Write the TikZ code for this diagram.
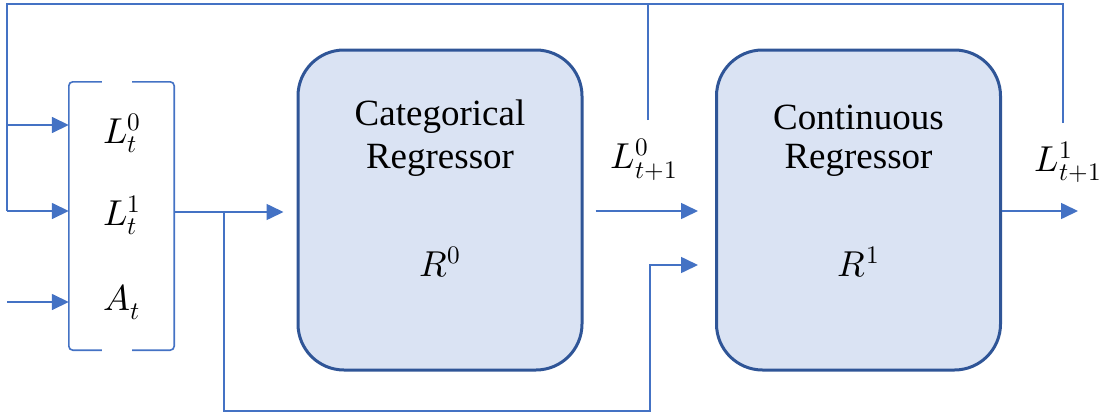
\documentclass[tikz,border=0pt]{standalone}
\usepackage{fontspec}
\usepackage{unicode-math}
\setmainfont{Liberation Serif}
\usetikzlibrary{arrows.meta}
\definecolor{linkblue}{HTML}{4472C4}
\definecolor{boxedge}{HTML}{2F5597}
\definecolor{boxfill}{HTML}{DAE3F3}
\begin{document}
\begin{tikzpicture}[x=1pt,y=-1pt,
  conn/.style={draw=linkblue,line width=1.6pt},
  arr/.style={conn,-{Triangle[length=17pt,width=16pt]}},
  regbox/.style={draw=boxedge,line width=3pt,fill=boxfill,rounded corners=46pt,
    minimum width=284pt,minimum height=320pt,inner sep=0pt},
  txt/.style={font=\fontsize{37}{40}\selectfont,inner sep=0pt},
  mth/.style={font=\fontsize{36}{40}\selectfont,inner sep=0pt}]
\useasboundingbox (0,0) rectangle (1105,415);

% input vector with its bracket
\node[minimum width=105pt,minimum height=268pt,inner sep=0pt] (vec) at (121.5,216) {};
\draw[conn,rounded corners=4pt] ([xshift=33pt]vec.north west) -- (vec.north west)
  -- (vec.south west) -- ([xshift=33pt]vec.south west);
\draw[conn,rounded corners=4pt] ([xshift=-42pt]vec.north east) -- (vec.north east)
  -- (vec.south east) -- ([xshift=-42pt]vec.south east);
\node[mth] (l0t) at (122,133) {$L_t^0$};
\node[mth] (l1t) at (122,215) {$L_t^1$};
\node[mth] (at) at (122,302) {$A_t$};

% regressors
\node[regbox] (r0) at (440,210) {};
\node[txt] (r0a) at (440,117) {Categorical};
\node[txt] (r0b) at (440,160) {Regressor};
\node[mth] (r0c) at (440,262) {$R^0$};

\node[regbox] (r1) at (858.5,210) {};
\node[txt] (r1a) at (858.5,117) {Continuous};
\node[txt] (r1b) at (858.5,160) {Regressor};
\node[mth] (r1c) at (858.5,262) {$R^1$};

% outputs
\node[mth] (l0n) at (644,160) {$L_{t+1}^0$};
\node[mth] (l1n) at (1068,162) {$L_{t+1}^1$};

% connector end points
\coordinate (tl) at (7,4);
\coordinate (j) at (224,212);
\coordinate (low) at (650,411);
\coordinate (fb0) at (648,120);
\coordinate (fb0top) at (648,4);
\coordinate (fb1) at (1063,123);
\coordinate (out1) at (1078,211);

% forward flow
\draw[arr,shorten >=13pt] (vec.east |- j) -- (r0.west |- j);
\draw[arr,shorten <=12pt,shorten >=17pt] (r0.east |- 0,211) -- (r1.west |- 0,211);
\draw[arr,shorten >=17pt] (j) |- (low) -- (low |- 0,265) -- (r1.west |- 0,265);
\draw[arr] (r1.east |- out1) -- (out1);

% feedback of the predicted labels
\draw[conn] (fb0) -- (fb0top);
\draw[conn] (fb1) |- (tl) -- (tl |- 0,211);
\draw[arr] (tl |- 0,125) -- (vec.west |- 0,125);
\draw[arr] (tl |- 0,211) -- (vec.west |- 0,211);
\draw[arr] (tl |- 0,302) -- (vec.west |- 0,302);
\end{tikzpicture}
\end{document}
